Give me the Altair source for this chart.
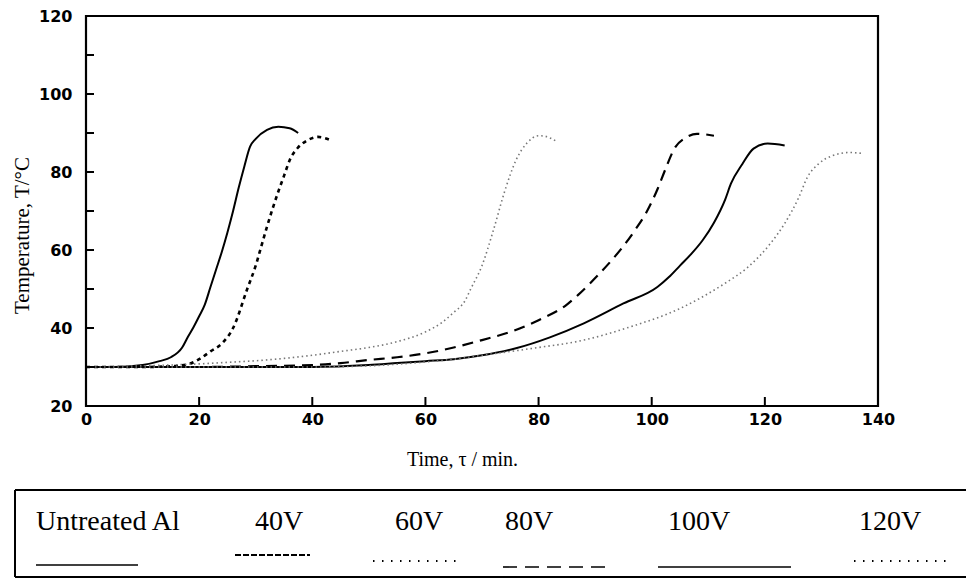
import altair as alt
import pandas as pd

# ---- data ----
series_names = ["Untreated Al", "40V", "60V", "80V", "100V", "120V"]

t_untreated = [0, 5, 10, 13, 15, 17, 18, 19, 20, 21, 22, 23, 24, 25, 26, 27, 28, 29, 30, 32, 34, 36, 37.5]
T_untreated = [30, 30, 30.5, 31.5, 32.5, 35, 37.7, 40.2, 43, 46, 50.5, 55, 59.5, 64.5, 70, 76, 81.5, 86.5, 88.5, 90.8, 91.6, 91.2, 90]

t_40 = [0, 10, 15, 18, 20, 22, 24, 26, 28.5, 30, 31, 32, 34, 35, 36, 37.5, 39, 41, 43.5]
T_40 = [30, 30, 30.2, 30.7, 32, 34, 36, 40, 50, 56, 61, 66, 75, 79, 83, 86.3, 88, 89, 88]

t_60 = [0, 10, 20, 25, 30, 35, 40, 45, 50, 55, 60, 63, 65, 67, 68, 70, 72, 74, 76, 78, 80, 81, 83]
T_60 = [30, 30.3, 30.8, 31.2, 31.6, 32.2, 33, 34, 35, 36.5, 39, 41.5, 44, 47, 50, 56, 65, 75, 83, 87.5, 89.3, 89.2, 88]

t_80 = [0, 20, 30, 40, 45, 50, 55, 60, 65, 70, 75, 80, 85, 87, 89, 91, 93, 95, 97, 99, 101, 102.5, 104, 106, 108, 111]
T_80 = [30, 30, 30.2, 30.5, 31, 31.8, 32.5, 33.5, 35, 36.9, 39, 42, 46, 48.5, 51.3, 54.3, 57.5, 61, 65, 69.5, 75.5, 81, 86, 88.8, 89.8, 89.3]

t_100 = [0, 20, 40, 50, 55, 60, 65, 70, 76, 82, 88, 95, 101, 103, 105, 107, 109, 111, 113, 114, 116, 118, 120.5, 123.5]
T_100 = [30, 30, 30, 30.5, 31, 31.5, 32, 33, 34.8, 37.6, 41.2, 46.3, 50.5, 53, 56, 59, 62.5, 67, 73, 77, 82, 86, 87.3, 86.8]

t_120 = [0, 20, 40, 50, 60, 65, 70, 79, 88, 96, 105, 109, 113, 117, 121, 123.5, 126, 127.5, 129.5, 132, 135, 137.5]
T_120 = [30, 30, 30, 30.3, 31.3, 32, 33, 34.8, 36.9, 40.2, 45, 48, 51.5, 55.6, 61.7, 66.8, 73.5, 78.6, 82.1, 84.2, 85, 84.7]

x_ticks = [0, 20, 40, 60, 80, 100, 120, 140]
y_ticks = [20, 30, 40, 50, 60, 70, 80, 90, 100, 110, 120]

# ---- styles / layout (not data) ----
styles = {
    "Untreated Al": dict(color="black", strokeWidth=2),
    "40V": dict(color="black", strokeWidth=2.6, strokeDash=[4, 4]),
    "60V": dict(color="#777777", strokeWidth=1.6, strokeDash=[1.5, 3]),
    "80V": dict(color="black", strokeWidth=2.2, strokeDash=[11, 7]),
    "100V": dict(color="black", strokeWidth=2),
    "120V": dict(color="#777777", strokeWidth=1.6, strokeDash=[1.5, 3]),
}
series_data = {
    "Untreated Al": (t_untreated, T_untreated),
    "40V": (t_40, T_40),
    "60V": (t_60, T_60),
    "80V": (t_80, T_80),
    "100V": (t_100, T_100),
    "120V": (t_120, T_120),
}

W, H = 792, 390

xscale = alt.Scale(domain=[0, 140], nice=False, zero=False)
yscale = alt.Scale(domain=[20, 120], nice=False, zero=False)

x_axis = alt.Axis(values=x_ticks, ticks=False, tickSize=0, domain=False, grid=False,
                  labelFlush=False,
                  labelFont="DejaVu Sans", labelFontWeight="bold", labelFontSize=16,
                  labelColor="black", labelPadding=5,
                  title="Time, τ / min.", titleFont="Liberation Serif", titleFontSize=20,
                  titleFontWeight="normal", titleColor="black",
                  titleX=376, titleY=59, titleBaseline="alphabetic", titleAlign="center")
y_axis = alt.Axis(values=y_ticks, ticks=False, tickSize=0, domain=False, grid=False,
                  labelFlush=False,
                  labelExpr="datum.value % 20 == 0 ? datum.label : ''",
                  labelFont="DejaVu Sans", labelFontWeight="bold", labelFontSize=16,
                  labelColor="black", labelPadding=14,
                  title="Temperature, T/°C", titleFont="Liberation Serif", titleFontSize=21,
                  titleFontWeight="normal", titleColor="black",
                  titleX=-64, titleY=219, titleAngle=270, titleAlign="center",
                  titleBaseline="middle")

layers = []
for name in series_names:
    ts, Ts = series_data[name]
    df = pd.DataFrame({"t": ts, "T": Ts})
    enc = dict(
        x=alt.X("t:Q", scale=xscale, axis=x_axis),
        y=alt.Y("T:Q", scale=yscale, axis=y_axis),
        order="t:Q",
    )
    layers.append(alt.Chart(df).mark_line(interpolate="monotone", clip=True, **styles[name]).encode(**enc))

# inward ticks
ytick_df = pd.DataFrame({"T": y_ticks[1:-1]})
layers.append(alt.Chart(ytick_df).mark_rule(color="black", strokeWidth=2).encode(
    y=alt.Y("T:Q", scale=yscale, axis=y_axis), x=alt.value(0), x2=alt.value(8)))
xtick_df = pd.DataFrame({"t": x_ticks[1:-1]})
layers.append(alt.Chart(xtick_df).mark_rule(color="black", strokeWidth=2).encode(
    x=alt.X("t:Q", scale=xscale, axis=x_axis), y=alt.value(H), y2=alt.value(H - 9)))

# legend box below the plot (text samples like the reference)
legend_x = [-50, 169, 309, 419, 582, 773]  # pixel offsets of legend labels
legend_df = pd.DataFrame({"label": series_names, "lx": legend_x, "ly": [514] * 6})
one_df = pd.DataFrame({"a": [0]})
box_kw = dict(color="black", strokeWidth=2)
layers.append(alt.Chart(one_df).mark_rule(**box_kw).encode(
    x=alt.value(-71), x2=alt.value(880), y=alt.value(474)))
layers.append(alt.Chart(one_df).mark_rule(**box_kw).encode(
    x=alt.value(-71), x2=alt.value(880), y=alt.value(561)))
layers.append(alt.Chart(one_df).mark_rule(**box_kw).encode(
    x=alt.value(-71), y=alt.value(474), y2=alt.value(561)))
layers.append(alt.Chart(legend_df).mark_text(font="Liberation Serif", fontSize=28, align="left",
                                             baseline="alphabetic", color="black").encode(
    x=alt.X("lx:Q", scale=None), y=alt.Y("ly:Q", scale=None), text="label:N"))

sample_specs = [
    (-50, 52, 549, [], 1.6),
    (149, 224, 539, [6, 2], 2),
    (287, 377, 545, [1.5, 7.5], 2),
    (417, 521, 551, [14, 8], 1.6),
    (572, 705, 551, [], 1.6),
    (768, 865, 545, [1.5, 7.5], 2),
]
for x1, x2, yy, dash, sw in sample_specs:
    kw = dict(color="black", strokeWidth=sw)
    if dash:
        kw["strokeDash"] = dash
    layers.append(alt.Chart(one_df).mark_rule(**kw).encode(
        x=alt.value(x1), x2=alt.value(x2), y=alt.value(yy)))

chart = alt.layer(*layers).properties(
    width=W, height=H,
    autosize=alt.AutoSizeParams(type="none"),
    padding={"left": 78, "top": 8, "right": 88, "bottom": 173},
    background="white",
).configure_view(stroke="black", strokeWidth=2.2)

chart.save("out.html", embed_options={"renderer": "svg", "actions": False})
